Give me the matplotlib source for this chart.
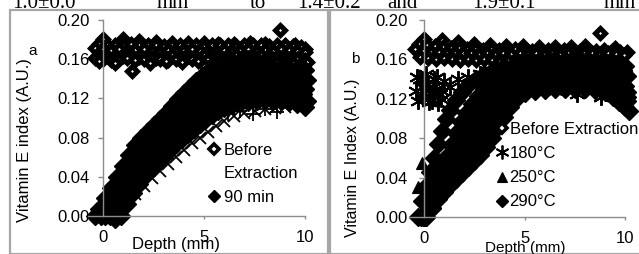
import matplotlib
matplotlib.use("Agg")
import matplotlib.pyplot as plt
from matplotlib.lines import Line2D
from matplotlib.patches import Rectangle

W, H = 639, 254  # output size in pixels

# ---- panel a : extraction time ----
# before extraction, six sets of readings
bef_a_d1 = [0.0, 1.0, 1.8, 2.6, 3.4, 4.2, 5.0, 5.7, 6.5, 7.3, 8.0, 8.76, 9.5, 10.0]
bef_a_v1 = [0.181, 0.181, 0.179, 0.178, 0.177, 0.177, 0.177, 0.176, 0.176, 0.177, 0.176, 0.190, 0.174, 0.170]
bef_a_d2 = [-0.4, 0.0, 0.4, 0.8, 1.2, 1.6, 2.0, 2.4, 2.8, 3.2, 3.6, 4.0, 4.4, 4.8, 5.2, 5.6, 6.0,
            6.4, 6.8, 7.2, 7.6, 8.0, 8.4, 8.8, 9.2, 9.6, 10.0]
bef_a_v2 = [0.171, 0.170, 0.169, 0.170, 0.168, 0.169, 0.170, 0.168, 0.167, 0.169, 0.168, 0.169, 0.170,
            0.168, 0.167, 0.168, 0.169, 0.168, 0.169, 0.170, 0.168, 0.169, 0.168, 0.170, 0.169, 0.168, 0.167]
bef_a_d3 = [-0.2, 0.2, 0.6, 1.0, 1.4, 1.8, 2.2, 2.6, 3.0, 3.4, 3.8, 4.2, 4.6, 5.0, 5.4, 5.8,
            6.2, 6.6, 7.0, 7.4, 7.8, 8.2, 8.6, 9.0, 9.4, 9.8]
bef_a_v3 = [0.164, 0.163, 0.162, 0.163, 0.164, 0.162, 0.163, 0.161, 0.163, 0.164, 0.162, 0.163, 0.162,
            0.164, 0.163, 0.162, 0.163, 0.164, 0.162, 0.163, 0.164, 0.163, 0.162, 0.163, 0.162, 0.161]
bef_a_d4 = [-0.2, 0.6, 1.45, 2.3, 3.1, 3.9, 4.7, 5.5, 6.3, 7.1, 7.9, 8.6, 9.4, 10.1]
bef_a_v4 = [0.158, 0.156, 0.148, 0.156, 0.158, 0.157, 0.158, 0.157, 0.157, 0.158, 0.158, 0.157, 0.156, 0.157]
bef_a_d5 = [-0.2, 0.2, 0.6, 1.0, 1.4, 1.8, 2.2, 2.6, 3.0, 3.4, 3.8, 4.2, 4.6, 5.0, 5.4, 5.8,
            6.2, 6.6, 7.0, 7.4, 7.8, 8.2, 8.6, 9.0, 9.4, 9.8]
bef_a_v5 = [0.176, 0.175, 0.174, 0.175, 0.176, 0.174, 0.175, 0.174, 0.173, 0.175, 0.174, 0.175, 0.174,
            0.173, 0.174, 0.175, 0.174, 0.173, 0.174, 0.175, 0.174, 0.173, 0.174, 0.175, 0.173, 0.172]
bef_a_d6 = [-0.4, 0.0, 0.4, 0.8, 1.2, 1.6, 2.0, 2.4, 2.8, 3.2, 3.6, 4.0, 4.4, 4.8, 5.2, 5.6, 6.0,
            6.4, 6.8, 7.2, 7.6, 8.0, 8.4, 8.8, 9.2, 9.6, 10.0]
bef_a_v6 = [0.161, 0.160, 0.159, 0.160, 0.161, 0.159, 0.160, 0.161, 0.160, 0.159, 0.160, 0.161, 0.160,
            0.159, 0.160, 0.161, 0.160, 0.159, 0.160, 0.161, 0.160, 0.159, 0.160, 0.160, 0.159, 0.160, 0.159]

# 90 min, six profiles from the fastest to the slowest rise
m90_d1 = [-0.4, -0.2, 0.1, 0.4, 0.7, 1.0, 1.3, 1.6, 1.9, 2.2, 2.5, 2.8, 3.1, 3.4, 3.7, 4.0,
          4.3, 4.6, 4.9, 5.2, 5.6, 6.0, 6.4, 6.8, 7.2, 7.6, 8.0, 8.4, 8.8, 9.2, 9.6, 10.0]
m90_v1 = [0.000, 0.007, 0.018, 0.029, 0.040, 0.051, 0.062, 0.072, 0.080, 0.087, 0.093, 0.099, 0.105,
          0.112, 0.119, 0.126, 0.132, 0.138, 0.143, 0.148, 0.151, 0.152, 0.153, 0.153, 0.153, 0.154,
          0.153, 0.152, 0.152, 0.151, 0.150, 0.149]
m90_d2 = [-0.1, 0.2, 0.5, 0.8, 1.1, 1.4, 1.7, 2.0, 2.3, 2.6, 2.9, 3.2, 3.5, 3.8, 4.1, 4.4,
          4.7, 5.0, 5.3, 5.7, 6.1, 6.5, 6.9, 7.3, 7.7, 8.1, 8.5, 8.9, 9.3, 9.7, 10.1]
m90_v2 = [0.000, 0.011, 0.022, 0.033, 0.044, 0.055, 0.064, 0.073, 0.080, 0.087, 0.093, 0.099, 0.106,
          0.112, 0.118, 0.124, 0.130, 0.135, 0.139, 0.143, 0.145, 0.146, 0.147, 0.147, 0.147, 0.146,
          0.146, 0.145, 0.143, 0.141, 0.139]
m90_d3 = [0.1, 0.4, 0.7, 1.0, 1.3, 1.6, 1.9, 2.2, 2.5, 2.8, 3.1, 3.4, 3.7, 4.0, 4.3, 4.6,
          4.9, 5.2, 5.6, 6.0, 6.4, 6.8, 7.2, 7.6, 8.0, 8.4, 8.8, 9.2, 9.6, 10.0]
m90_v3 = [0.000, 0.011, 0.022, 0.033, 0.043, 0.053, 0.062, 0.070, 0.077, 0.083, 0.089, 0.095, 0.101,
          0.107, 0.113, 0.118, 0.123, 0.127, 0.131, 0.134, 0.136, 0.138, 0.139, 0.140, 0.140, 0.139,
          0.138, 0.136, 0.133, 0.130]
m90_d4 = [0.35, 0.65, 0.95, 1.25, 1.55, 1.85, 2.15, 2.45, 2.75, 3.05, 3.35, 3.65, 3.95, 4.25, 4.55,
          4.85, 5.15, 5.5, 5.9, 6.3, 6.7, 7.1, 7.5, 7.9, 8.3, 8.7, 9.1, 9.5, 9.9]
m90_v4 = [0.000, 0.010, 0.021, 0.032, 0.042, 0.051, 0.059, 0.066, 0.073, 0.079, 0.085, 0.091, 0.097,
          0.102, 0.107, 0.112, 0.116, 0.120, 0.124, 0.127, 0.129, 0.131, 0.132, 0.132, 0.132, 0.131,
          0.130, 0.128, 0.125]
m90_d5 = [0.65, 0.95, 1.25, 1.55, 1.85, 2.15, 2.45, 2.75, 3.05, 3.35, 3.65, 3.95, 4.25, 4.55, 4.85,
          5.15, 5.45, 5.8, 6.2, 6.6, 7.0, 7.4, 7.8, 8.2, 8.6, 9.0, 9.4, 9.8, 10.1]
m90_v5 = [0.000, 0.009, 0.020, 0.031, 0.041, 0.050, 0.058, 0.065, 0.071, 0.077, 0.083, 0.088, 0.093,
          0.098, 0.102, 0.106, 0.110, 0.114, 0.118, 0.120, 0.122, 0.123, 0.124, 0.124, 0.124, 0.123,
          0.121, 0.119, 0.117]
m90_d6 = [0.6, 0.9, 1.2, 1.5, 1.8, 2.1, 2.4, 2.7, 3.0, 3.3, 3.6, 3.9, 4.2, 4.5, 4.8, 5.1, 5.4,
          5.7, 6.0, 6.4, 6.8, 7.2, 7.6, 8.0, 8.4, 8.8, 9.2, 9.6, 10.0]
m90_v6 = [-0.003, 0.000, 0.012, 0.023, 0.033, 0.042, 0.049, 0.055, 0.061, 0.067, 0.073, 0.079, 0.084,
          0.089, 0.094, 0.099, 0.103, 0.107, 0.110, 0.113, 0.115, 0.116, 0.117, 0.118, 0.117, 0.117,
          0.116, 0.114, 0.111]

# unlabelled series hidden under the 90 min points
hid_a_d1 = [1.6, 2.0, 2.4, 2.8, 3.2, 3.6, 4.0, 4.4, 4.8, 5.2, 5.6, 6.0, 6.5, 7.0, 7.5, 8.0, 8.5, 9.0]
hid_a_v1 = [0.022, 0.031, 0.039, 0.046, 0.053, 0.060, 0.067, 0.074, 0.080, 0.086, 0.092, 0.097,
            0.102, 0.105, 0.107, 0.109, 0.110, 0.111]
hid_a_d2 = [6.2, 6.8, 7.4, 8.0, 8.6]
hid_a_v2 = [0.104, 0.107, 0.104, 0.109, 0.106]

# ---- panel b : temperature ----
bef_b_d1 = [0.0, 0.9, 1.7, 2.5, 3.3, 4.1, 4.9, 5.7, 6.5, 7.3, 8.0, 8.75, 9.5, 10.1]
bef_b_v1 = [0.181, 0.180, 0.178, 0.176, 0.175, 0.174, 0.174, 0.173, 0.173, 0.173, 0.174, 0.187, 0.172, 0.168]
bef_b_d2 = [-0.45, -0.05, 0.35, 0.75, 1.15, 1.55, 1.95, 2.35, 2.75, 3.15, 3.55, 3.95, 4.35, 4.75,
            5.15, 5.55, 5.95, 6.35, 6.75, 7.15, 7.55, 7.95, 8.35, 8.75, 9.15, 9.55, 9.95]
bef_b_v2 = [0.171, 0.169, 0.168, 0.168, 0.167, 0.166, 0.167, 0.166, 0.165, 0.166, 0.165, 0.166, 0.165,
            0.166, 0.165, 0.166, 0.165, 0.166, 0.165, 0.166, 0.165, 0.167, 0.166, 0.165, 0.166, 0.165, 0.164]
bef_b_d3 = [-0.2, 0.2, 0.6, 1.0, 1.4, 1.8, 2.2, 2.6, 3.0, 3.4, 3.8, 4.2, 4.6, 5.0, 5.4, 5.8,
            6.2, 6.6, 7.0, 7.4, 7.8, 8.2, 8.6, 9.0, 9.4, 9.8]
bef_b_v3 = [0.162, 0.161, 0.160, 0.161, 0.160, 0.159, 0.160, 0.159, 0.160, 0.159, 0.158, 0.159, 0.160,
            0.159, 0.158, 0.159, 0.160, 0.159, 0.158, 0.159, 0.160, 0.159, 0.158, 0.159, 0.158, 0.157]
bef_b_d4 = [-0.25, 0.15, 0.55, 0.95, 1.35, 1.75, 2.15, 2.55, 2.95, 3.35, 3.75, 4.15, 4.55, 4.95,
            5.35, 5.75, 6.15, 6.55, 6.95, 7.35, 7.75, 8.15, 8.55, 8.95, 9.35, 9.75]
bef_b_v4 = [0.176, 0.175, 0.174, 0.173, 0.172, 0.172, 0.171, 0.171, 0.170, 0.171, 0.170, 0.170, 0.171,
            0.170, 0.169, 0.170, 0.170, 0.169, 0.170, 0.170, 0.169, 0.170, 0.169, 0.170, 0.169, 0.168]

c180_d = [-0.4, -0.3, -0.2, -0.1, 0.0, 0.1, 0.2, 0.3, 0.4, 0.5, 0.6, 0.7, 0.8, 0.9, 1.0,
          -0.35, -0.15, 0.05, 0.25, 0.45, 0.65, 0.85,
          1.3, 1.7, 2.2, 2.8, 3.4, 4.0, 4.6, 5.2, 5.8, 6.4, 7.0, 7.6, 8.2, 8.8, 9.4, 10.0]
c180_v = [0.128, 0.118, 0.140, 0.132, 0.122, 0.145, 0.135, 0.126, 0.118, 0.140, 0.130, 0.116, 0.125,
          0.128, 0.138, 0.142, 0.124, 0.133, 0.117, 0.128, 0.142, 0.120,
          0.132, 0.140, 0.142, 0.145, 0.143, 0.146, 0.140, 0.145, 0.138, 0.142, 0.132, 0.125, 0.134,
          0.122, 0.140, 0.145]

c250_d = [-0.3, -0.1, 0.3, 0.6, 0.9, 1.2, 1.5, 1.8, 2.1, 2.4, 2.8, 3.2, 3.7, 4.2, 4.8, 5.4,
          6.0, 6.6, 7.2, 7.8, 8.4, 9.0, 9.6, 10.0]
c250_v = [0.030, 0.055, 0.030, 0.043, 0.056, 0.068, 0.079, 0.089, 0.098, 0.106, 0.115, 0.122, 0.130,
          0.136, 0.141, 0.144, 0.146, 0.147, 0.148, 0.148, 0.147, 0.146, 0.144, 0.141]

# 290 C, eight profiles from the fastest to the slowest rise
c290_d1 = [-0.3, -0.1, 0.1, 0.3, 0.5, 0.7, 0.9, 1.1, 1.3, 1.6, 1.9, 2.2, 2.6, 3.0, 3.5, 4.0,
           4.6, 5.2, 5.8, 6.4, 7.0, 7.6, 8.2, 8.8, 9.4, 10.0]
c290_v1 = [0.000, 0.016, 0.031, 0.046, 0.060, 0.074, 0.087, 0.099, 0.109, 0.119, 0.127, 0.134, 0.140,
           0.145, 0.150, 0.153, 0.155, 0.157, 0.158, 0.158, 0.159, 0.158, 0.158, 0.157, 0.155, 0.153]
c290_d2 = [-0.15, 0.1, 0.35, 0.6, 0.85, 1.1, 1.35, 1.6, 1.85, 2.1, 2.4, 2.7, 3.0, 3.4, 3.8, 4.3,
           4.8, 5.4, 6.0, 6.6, 7.2, 7.8, 8.4, 9.0, 9.6, 10.1]
c290_v2 = [0.000, 0.013, 0.026, 0.037, 0.049, 0.061, 0.073, 0.085, 0.096, 0.106, 0.115, 0.123, 0.130,
           0.136, 0.141, 0.145, 0.148, 0.150, 0.151, 0.152, 0.152, 0.151, 0.151, 0.149, 0.146, 0.143]
c290_d3 = [-0.05, 0.2, 0.45, 0.7, 0.95, 1.2, 1.45, 1.7, 1.95, 2.2, 2.5, 2.8, 3.1, 3.5, 3.9, 4.4,
           4.9, 5.5, 6.1, 6.7, 7.3, 7.9, 8.5, 9.1, 9.7]
c290_v3 = [0.000, 0.012, 0.024, 0.035, 0.046, 0.056, 0.066, 0.076, 0.086, 0.095, 0.104, 0.112, 0.119,
           0.126, 0.133, 0.138, 0.142, 0.145, 0.146, 0.147, 0.147, 0.147, 0.146, 0.144, 0.140]
c290_d4 = [0.0, 0.25, 0.5, 0.75, 1.0, 1.25, 1.5, 1.75, 2.0, 2.25, 2.5, 2.75, 3.0, 3.3, 3.6, 3.9,
           4.2, 4.6, 5.0, 5.5, 6.0, 6.6, 7.2, 7.8, 8.4, 9.0, 9.5, 10.0]
c290_v4 = [0.000, 0.011, 0.022, 0.032, 0.042, 0.051, 0.060, 0.068, 0.076, 0.084, 0.092, 0.099, 0.106,
           0.113, 0.120, 0.126, 0.131, 0.136, 0.139, 0.141, 0.142, 0.143, 0.143, 0.143, 0.142, 0.140,
           0.137, 0.133]
c290_d5 = [0.0, 0.3, 0.6, 0.9, 1.2, 1.5, 1.8, 2.1, 2.4, 2.7, 3.0, 3.3, 3.6, 3.9, 4.2, 4.6, 5.0,
           5.5, 6.1, 6.7, 7.3, 7.9, 8.5, 9.1, 9.6, 10.1]
c290_v5 = [0.000, 0.011, 0.022, 0.033, 0.043, 0.052, 0.061, 0.069, 0.077, 0.086, 0.095, 0.104, 0.113,
           0.121, 0.128, 0.134, 0.137, 0.139, 0.140, 0.140, 0.140, 0.139, 0.138, 0.136, 0.132, 0.127]
c290_d6 = [0.05, 0.35, 0.65, 0.95, 1.25, 1.55, 1.85, 2.15, 2.45, 2.75, 3.05, 3.35, 3.65, 3.95, 4.3,
           4.7, 5.1, 5.6, 6.2, 6.8, 7.4, 8.0, 8.6, 9.2, 9.7, 10.1]
c290_v6 = [0.000, 0.010, 0.020, 0.030, 0.040, 0.048, 0.056, 0.064, 0.072, 0.080, 0.089, 0.098, 0.107,
           0.116, 0.123, 0.128, 0.132, 0.134, 0.136, 0.137, 0.137, 0.136, 0.135, 0.133, 0.128, 0.122]
c290_d7 = [0.1, 0.4, 0.7, 1.0, 1.3, 1.6, 1.9, 2.2, 2.5, 2.8, 3.1, 3.4, 3.7, 4.0, 4.3, 4.7, 5.1,
           5.6, 6.2, 6.8, 7.4, 8.0, 8.6, 9.2, 9.7, 10.1]
c290_v7 = [0.000, 0.009, 0.019, 0.028, 0.036, 0.043, 0.050, 0.057, 0.064, 0.071, 0.079, 0.088, 0.099,
           0.110, 0.119, 0.126, 0.130, 0.132, 0.133, 0.133, 0.133, 0.133, 0.132, 0.130, 0.125, 0.118]
c290_d8 = [0.1, 0.4, 0.7, 1.0, 1.3, 1.6, 1.9, 2.2, 2.5, 2.8, 3.1, 3.4, 3.7, 4.0, 4.3, 4.6, 5.0,
           5.5, 6.0, 6.5, 7.0, 7.5, 8.0, 8.5, 9.0, 9.4, 9.7, 10.0, 10.2]
c290_v8 = [0.000, 0.009, 0.018, 0.025, 0.032, 0.039, 0.045, 0.051, 0.057, 0.063, 0.071, 0.080, 0.091,
           0.102, 0.112, 0.120, 0.126, 0.128, 0.129, 0.130, 0.130, 0.130, 0.130, 0.129, 0.127, 0.122,
           0.117, 0.112, 0.108]

x_ticks = [0, 5, 10]
y_ticks = [0.00, 0.04, 0.08, 0.12, 0.16, 0.20]

# header line that is cut at the top of the picture
header_words = ["1.0\u00b10.0", "mm", "to", "1.4\u00b10.2", "and", "1.9\u00b10.1", "mm"]
header_px = [12, 157, 250, 297, 387, 472, 604]

plt.rcParams['font.family'] = ['Liberation Sans', 'DejaVu Sans']
GREY = '#8c8c8c'

OPEN_D = dict(marker='D', ms=5.2, mfc='white', mec='black', mew=3.6, ls='none')
FILL_D = dict(marker='D', ms=9.5, mfc='black', mec='black', mew=1.0, ls='none')
STAR = dict(marker=(6, 2, 0), ms=12, mec='black', mew=1.4, ls='none')
TRI = dict(marker='^', ms=9, mfc='black', mec='black', mew=0.8, ls='none')

# smaller copies for the legend keys
KEY_OPEN = dict(OPEN_D, ms=5.5, mew=2.6)
KEY_FILL = dict(FILL_D, ms=6.5)
KEY_STAR = dict(STAR, ms=10, mew=1.3)
KEY_TRI = dict(TRI, ms=7.5)


def fx(px):
    return px / W


def fy(py):
    return 1 - py / H


def style_axes(ax, tick_pad):
    ax.set_xlim(-0.75, 10)
    ax.set_ylim(0, 0.2)
    for s in ('top', 'right'):
        ax.spines[s].set_visible(False)
    ax.spines['left'].set_position(('data', 0))
    for s in ('left', 'bottom'):
        ax.spines[s].set_color(GREY)
        ax.spines[s].set_linewidth(1.0)
    ax.set_xticks(x_ticks)
    ax.set_yticks(y_ticks)
    ax.set_yticklabels(['%.2f' % t for t in y_ticks])
    ax.tick_params(axis='y', direction='out', length=3.5, width=1, color=GREY,
                   labelsize=12, pad=tick_pad)
    ax.tick_params(axis='x', direction='out', length=2.5, width=1, color=GREY,
                   labelsize=12, pad=7.5)
    ax.patch.set_visible(False)


def main():
    fig = plt.figure(figsize=(W / 100, H / 100), dpi=100)

    # chart frames
    fig.add_artist(Rectangle((fx(10), 0), fx(318), fy(10), transform=fig.transFigure,
                             fill=False, ec='#a6a6a6', lw=1.6))
    fig.add_artist(Rectangle((fx(330), 0), fx(320), fy(10), transform=fig.transFigure,
                             fill=False, ec='#a6a6a6', lw=1.6))

    for word, px in zip(header_words, header_px):
        fig.text(fx(px), fy(8), word, family='Liberation Serif', fontsize=15,
                 ha='left', va='baseline')

    # panel a
    ax = fig.add_axes([fx(88), fy(216), fx(217), fy(20) - fy(216)])
    style_axes(ax, 6)
    for d, v in [(bef_a_d1, bef_a_v1), (bef_a_d5, bef_a_v5), (bef_a_d2, bef_a_v2),
                 (bef_a_d3, bef_a_v3), (bef_a_d6, bef_a_v6), (bef_a_d4, bef_a_v4)]:
        ax.plot(d, v, clip_on=False, **OPEN_D)
    ax.plot(hid_a_d1, hid_a_v1, ls='none', marker='x', ms=8, mec='black', mew=1.3, clip_on=False)
    ax.plot(hid_a_d2, hid_a_v2, ls='none', marker='+', ms=10, mec='black', mew=1.3, clip_on=False)
    for d, v in [(m90_d1, m90_v1), (m90_d2, m90_v2), (m90_d3, m90_v3),
                 (m90_d4, m90_v4), (m90_d5, m90_v5), (m90_d6, m90_v6)]:
        ax.plot(d, v, clip_on=False, **FILL_D)

    blank = Line2D([], [], ls='none')
    leg = ax.legend([Line2D([], [], **KEY_OPEN), blank, Line2D([], [], **KEY_FILL)],
                    ['Before', 'Extraction', '90 min'],
                    loc='upper left', bbox_to_anchor=(fx(207), fy(143)),
                    bbox_transform=fig.transFigure, frameon=False, fontsize=12,
                    handlelength=0.8, handletextpad=0.2, labelspacing=0.5, borderpad=0,
                    borderaxespad=0)
    leg.set_zorder(5)

    fig.text(fx(25), fy(222), 'Vitamin E index (A.U.)', rotation=90, fontsize=12,
             ha='center', va='bottom')
    fig.text(fx(33), fy(51), 'a', fontsize=11, ha='center', va='center')
    fig.text(fx(176), fy(245), 'Depth (mm)', fontsize=12, ha='center', va='center')

    # panel b
    bx = fig.add_axes([fx(409), fy(217), fx(216), fy(20) - fy(217)])
    style_axes(bx, 8.5)
    for d, v in [(bef_b_d1, bef_b_v1), (bef_b_d4, bef_b_v4), (bef_b_d2, bef_b_v2), (bef_b_d3, bef_b_v3)]:
        bx.plot(d, v, clip_on=False, **OPEN_D)
    bx.plot(c180_d, c180_v, clip_on=False, **STAR)
    bx.plot(c250_d, c250_v, clip_on=False, **TRI)
    for d, v in [(c290_d1, c290_v1), (c290_d2, c290_v2), (c290_d3, c290_v3), (c290_d4, c290_v4),
                 (c290_d5, c290_v5), (c290_d6, c290_v6), (c290_d7, c290_v7), (c290_d8, c290_v8)]:
        bx.plot(d, v, clip_on=False, **FILL_D)

    leg_b = bx.legend([Line2D([], [], **KEY_OPEN), Line2D([], [], **KEY_STAR),
                       Line2D([], [], **KEY_TRI), Line2D([], [], **KEY_FILL)],
                      ['Before Extraction', '180\u00b0C', '250\u00b0C', '290\u00b0C'],
                      loc='upper left', bbox_to_anchor=(fx(497), fy(122)),
                      bbox_transform=fig.transFigure, frameon=False, fontsize=12,
                      handlelength=0.6, handletextpad=0.15, labelspacing=0.55, borderpad=0,
                      borderaxespad=0)
    leg_b.set_zorder(5)

    fig.text(fx(352), fy(237), 'Vitamin E Index (A.U.)', rotation=90, fontsize=11.5,
             ha='center', va='bottom')
    fig.text(fx(355), fy(59), 'b', fontsize=11, ha='center', va='center')
    fig.text(fx(525), fy(248), 'Depth (mm)', fontsize=11, ha='center', va='center')

    fig.savefig('out.png', dpi=100)


if __name__ == '__main__':
    main()
